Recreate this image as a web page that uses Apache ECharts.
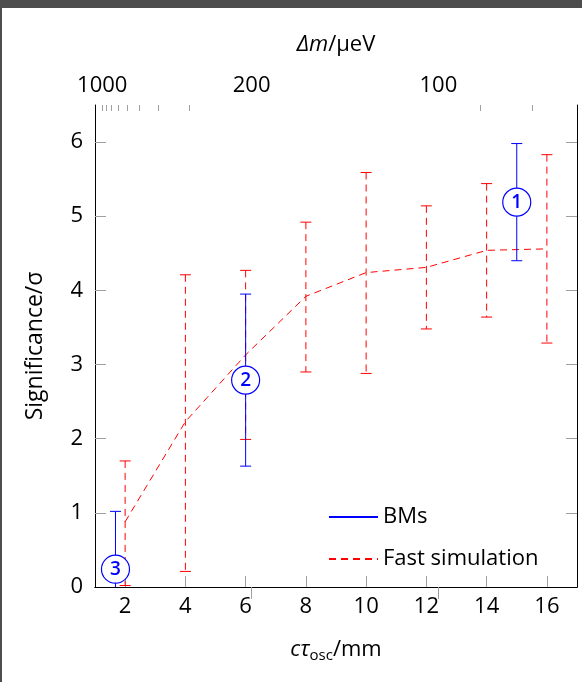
<!DOCTYPE html>
<html>
<head>
<meta charset="utf-8">
<script src="https://cdn.jsdelivr.net/npm/echarts@6/dist/echarts.min.js"></script>
<style>
  html, body { margin: 0; padding: 0; background: #fff; }
  #main { width: 582px; height: 682px; }
</style>
</head>
<body>
<div id="main"></div>
<script>
// fast simulation (red, dashed)
var simX = [2, 4, 6, 8, 10, 12, 14, 16];
var simY = [0.88, 2.23, 3.13, 3.92, 4.24, 4.31, 4.54, 4.56];
var simLo = [0.02, 0.21, 1.99, 2.90, 2.88, 3.48, 3.64, 3.29];
var simHi = [1.70, 4.21, 4.27, 4.92, 5.59, 5.14, 5.44, 5.83];

// BMs (blue, solid, circled numbers)
var bmX = [15, 6, 1.68];
var bmY = [5.19, 2.79, 0.24];
var bmLo = [4.40, 1.63, -0.5];
var bmHi = [5.98, 3.95, 1.02];
var bmLabels = ['1', '2', '3'];

// axes
var ctauTicks = [2, 4, 6, 8, 10, 12, 14, 16];
var sigTicks = [0, 1, 2, 3, 4, 5, 6];
var sigTickMarks = [1, 2, 3, 4, 5, 6]; // tick at 0 sits under the x axis line
var dmLabels = [1000, 200, 100];
var dmMajor = [200, 100];
var dmMinor = [1000, 900, 800, 700, 600, 500, 400, 300, 90, 80];

var hc = 1239.84; // μeV·mm, Δm = hc / cτ
function toCtau(dm) { return hc / dm; }

var font = 'Open Sans';
var tickGrey = '#a0a0a0';

var chart = echarts.init(document.getElementById('main'));

function errBars(color, dashed) {
  return function (params, api) {
    var x = api.value(0);
    var top = api.coord([x, api.value(2)]);
    var bot = api.coord([x, api.value(1)]);
    var w = 5.5;
    var st = { stroke: color, lineWidth: 1 };
    return {
      type: 'group',
      children: [
        { type: 'line', shape: { x1: top[0], y1: top[1], x2: bot[0], y2: bot[1] },
          style: { stroke: color, lineWidth: 1, lineDash: dashed ? [7, 5] : null } },
        { type: 'line', shape: { x1: top[0] - w, y1: top[1], x2: top[0] + w, y2: top[1] }, style: st },
        { type: 'line', shape: { x1: bot[0] - w, y1: bot[1], x2: bot[0] + w, y2: bot[1] }, style: st }
      ]
    };
  };
}

var option = {
  animation: false,
  backgroundColor: '#fff',
  textStyle: { fontFamily: font },
  graphic: [
    { type: 'rect', shape: { x: 0, y: 0, width: 582, height: 8 }, style: { fill: '#4d4d4d' }, z: 100 },
    { type: 'rect', shape: { x: 0, y: 0, width: 2, height: 682 }, style: { fill: '#4d4d4d' }, z: 100 }
  ],
  grid: { left: 95, right: 5, top: 105, bottom: 95 },
  legend: {
    orient: 'vertical',
    left: 323,
    top: 501,
    itemWidth: 49,
    itemHeight: 14,
    itemGap: 20,
    itemStyle: { opacity: 0 },
    textStyle: { fontSize: 22, color: '#000', fontFamily: font },
    data: ['BMs', 'Fast simulation']
  },
  xAxis: [
    {
      type: 'value', min: 1, max: 17, position: 'bottom',
      name: '{i|cτ}{s|osc}/mm', nameLocation: 'middle', nameGap: 50,
      nameTextStyle: {
        fontSize: 22, color: '#000', fontFamily: font,
        rich: {
          i: { fontSize: 22, fontStyle: 'italic', lineHeight: 26, fontFamily: font },
          s: { fontSize: 15, lineHeight: 12, verticalAlign: 'bottom', fontFamily: font }
        }
      },
      axisLine: { lineStyle: { color: '#000', width: 1 } },
      axisTick: { inside: true, length: 11, customValues: ctauTicks, lineStyle: { color: tickGrey } },
      axisLabel: { customValues: ctauTicks, fontSize: 22, color: '#000', margin: 9 },
      splitLine: { show: false }
    },
    {
      type: 'value', min: 1, max: 17, position: 'top',
      name: '{i|Δm}/μeV', nameLocation: 'middle', nameGap: 49,
      nameTextStyle: {
        fontSize: 22, color: '#000', fontFamily: font,
        rich: { i: { fontSize: 22, fontStyle: 'italic', fontFamily: font } }
      },
      axisLine: { lineStyle: { color: '#000', width: 1 } },
      axisTick: { inside: true, length: 12, customValues: dmMajor.map(toCtau), lineStyle: { color: tickGrey } },
      axisLabel: {
        customValues: dmLabels.map(toCtau), fontSize: 22, color: '#000', margin: 8,
        formatter: function (v) { return Math.round(hc / v); }
      },
      splitLine: { show: false }
    },
    {
      type: 'value', min: 1, max: 17, position: 'top',
      axisLine: { show: false },
      axisTick: { inside: true, length: 6, customValues: dmMinor.map(toCtau), lineStyle: { color: tickGrey } },
      axisLabel: { show: false },
      splitLine: { show: false }
    }
  ],
  yAxis: [
    {
      type: 'value', min: 0, max: 6.5, position: 'left',
      name: 'Significance/σ', nameLocation: 'middle', nameRotate: 90, nameGap: 48,
      nameTextStyle: { fontSize: 23, color: '#000', fontFamily: font },
      axisLine: { show: true, lineStyle: { color: '#000', width: 1 } },
      axisTick: { show: true, inside: true, length: 11, customValues: sigTickMarks, lineStyle: { color: tickGrey } },
      axisLabel: { customValues: sigTicks, fontSize: 22, color: '#000', margin: 12 },
      splitLine: { show: false }
    },
    {
      type: 'value', min: 0, max: 6.5, position: 'right',
      axisLine: { show: true, lineStyle: { color: '#000', width: 1 } },
      axisTick: { show: true, inside: true, length: 11, customValues: sigTickMarks, lineStyle: { color: tickGrey } },
      axisLabel: { show: false },
      splitLine: { show: false }
    }
  ],
  series: [
    {
      name: 'Fast simulation', type: 'line',
      data: simX.map(function (x, i) { return [x, simY[i]]; }),
      symbol: 'none', color: '#ff0000',
      lineStyle: { color: '#ff0000', width: 1, type: [7, 5] },
      z: 2
    },
    {
      name: 'sim errors', type: 'custom', clip: true,
      data: simX.map(function (x, i) { return [x, simLo[i], simHi[i]]; }),
      renderItem: errBars('#ff0000', true),
      z: 2
    },
    {
      name: 'BMs', type: 'line', data: [], symbol: 'none', color: '#0000ff',
      lineStyle: { color: '#0000ff', width: 1 }
    },
    {
      name: 'BMs errors', type: 'custom', clip: true,
      data: bmX.map(function (x, i) { return [x, bmLo[i], bmHi[i]]; }),
      renderItem: errBars('#0000ff', false),
      z: 3
    },
    {
      name: 'BMs points', type: 'scatter',
      data: bmX.map(function (x, i) { return [x, bmY[i]]; }),
      symbol: 'circle', symbolSize: 28,
      itemStyle: { color: '#fff', borderColor: '#0000ff', borderWidth: 1.2, opacity: 1 },
      label: {
        show: true, position: 'inside', color: '#0000ff', fontSize: 19, fontWeight: 600,
        formatter: function (p) { return bmLabels[p.dataIndex]; }
      },
      z: 4
    }
  ]
};

chart.setOption(option);
</script>
</body>
</html>
